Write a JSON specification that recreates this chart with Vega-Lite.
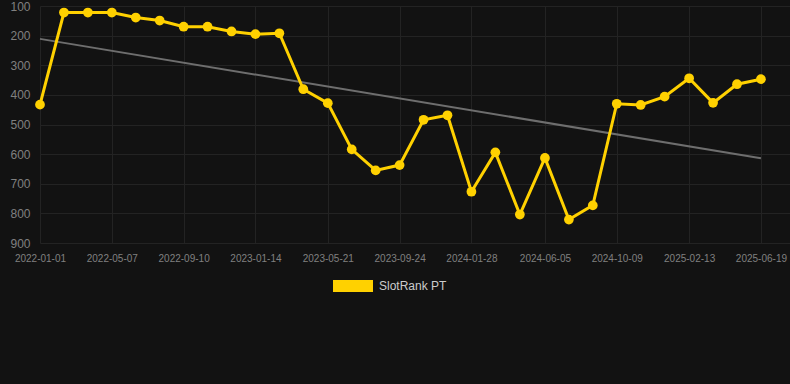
{
  "$schema": "https://vega.github.io/schema/vega-lite/v6.json",
  "width": 750,
  "height": 237,
  "autosize": {"type": "none"},
  "padding": {"left": 40, "top": 6, "right": 0, "bottom": 141},
  "background": "#121212",
  "config": {
    "view": {"stroke": null},
    "font": "Liberation Sans",
    "axis": {"gridColor": "#232323", "gridWidth": 1, "domain": false, "ticks": false, "labelColor": "#808080", "labelFont": "Liberation Sans", "title": null}
  },
  "datasets": {
    "rank": [
      {"date": "2022-01-01", "rank": 433, "series": "SlotRank PT"},
      {"date": "2022-02-12", "rank": 122, "series": "SlotRank PT"},
      {"date": "2022-03-26", "rank": 122, "series": "SlotRank PT"},
      {"date": "2022-05-07", "rank": 122, "series": "SlotRank PT"},
      {"date": "2022-06-18", "rank": 139, "series": "SlotRank PT"},
      {"date": "2022-07-30", "rank": 149, "series": "SlotRank PT"},
      {"date": "2022-09-10", "rank": 170, "series": "SlotRank PT"},
      {"date": "2022-10-22", "rank": 170, "series": "SlotRank PT"},
      {"date": "2022-12-03", "rank": 186, "series": "SlotRank PT"},
      {"date": "2023-01-14", "rank": 195, "series": "SlotRank PT"},
      {"date": "2023-02-25", "rank": 192, "series": "SlotRank PT"},
      {"date": "2023-04-08", "rank": 381, "series": "SlotRank PT"},
      {"date": "2023-05-21", "rank": 428, "series": "SlotRank PT"},
      {"date": "2023-07-02", "rank": 584, "series": "SlotRank PT"},
      {"date": "2023-08-13", "rank": 655, "series": "SlotRank PT"},
      {"date": "2023-09-24", "rank": 637, "series": "SlotRank PT"},
      {"date": "2023-11-05", "rank": 484, "series": "SlotRank PT"},
      {"date": "2023-12-17", "rank": 469, "series": "SlotRank PT"},
      {"date": "2024-01-28", "rank": 727, "series": "SlotRank PT"},
      {"date": "2024-03-10", "rank": 594, "series": "SlotRank PT"},
      {"date": "2024-04-22", "rank": 804, "series": "SlotRank PT"},
      {"date": "2024-06-05", "rank": 613, "series": "SlotRank PT"},
      {"date": "2024-07-17", "rank": 821, "series": "SlotRank PT"},
      {"date": "2024-08-28", "rank": 773, "series": "SlotRank PT"},
      {"date": "2024-10-09", "rank": 430, "series": "SlotRank PT"},
      {"date": "2024-11-20", "rank": 434, "series": "SlotRank PT"},
      {"date": "2025-01-01", "rank": 406, "series": "SlotRank PT"},
      {"date": "2025-02-13", "rank": 344, "series": "SlotRank PT"},
      {"date": "2025-03-27", "rank": 427, "series": "SlotRank PT"},
      {"date": "2025-05-08", "rank": 364, "series": "SlotRank PT"},
      {"date": "2025-06-19", "rank": 347, "series": "SlotRank PT"}
    ],
    "trend": [
      {"date": "2022-01-01", "rank": 211},
      {"date": "2025-06-19", "rank": 614}
    ]
  },
  "encoding": {
    "x": {
      "field": "date",
      "type": "temporal",
      "scale": {"type": "utc", "domain": [{"year": 2022, "month": 1, "date": 1, "utc": true}, {"year": 2025, "month": 8, "date": 9, "utc": true}]},
      "axis": {
        "values": [
          {"year": 2022, "month": 1, "date": 1, "utc": true},
          {"year": 2022, "month": 5, "date": 7, "utc": true},
          {"year": 2022, "month": 9, "date": 10, "utc": true},
          {"year": 2023, "month": 1, "date": 14, "utc": true},
          {"year": 2023, "month": 5, "date": 21, "utc": true},
          {"year": 2023, "month": 9, "date": 24, "utc": true},
          {"year": 2024, "month": 1, "date": 28, "utc": true},
          {"year": 2024, "month": 6, "date": 5, "utc": true},
          {"year": 2024, "month": 10, "date": 9, "utc": true},
          {"year": 2025, "month": 2, "date": 13, "utc": true},
          {"year": 2025, "month": 6, "date": 19, "utc": true}
        ],
        "labelExpr": "utcFormat(datum.value, '%Y-%m-%d')",
        "labelFontSize": 10,
        "labelPadding": 10,
        "labelOverlap": false,
        "labelFlush": false,
        "labelBound": false
      }
    },
    "y": {
      "field": "rank",
      "type": "quantitative",
      "scale": {"domain": [100, 900], "reverse": true, "nice": false, "zero": false},
      "axis": {"values": [100, 200, 300, 400, 500, 600, 700, 800, 900], "labelFontSize": 12, "labelPadding": 10, "labelFlush": false}
    }
  },
  "layer": [
    {
      "data": {"name": "trend"},
      "mark": {"type": "line", "color": "#6e6e6e", "strokeWidth": 2}
    },
    {
      "data": {"name": "rank"},
      "mark": {"type": "line", "strokeWidth": 3, "point": {"size": 95, "filled": true, "opacity": 1}},
      "encoding": {
        "color": {
          "field": "series",
          "type": "nominal",
          "scale": {"range": ["#FFD100"]},
          "legend": {
            "orient": "none",
            "legendX": 293,
            "legendY": 260,
            "title": null,
            "padding": 0,
            "symbolType": "M-1,-0.3H1V0.3H-1Z",
            "symbolSize": 1600,
            "symbolFillColor": "#FFD100",
            "symbolStrokeColor": "#FFD100",
            "symbolStrokeWidth": 0,
            "labelColor": "#cccccc",
            "labelFontSize": 12,
            "labelFont": "Liberation Sans",
            "labelOffset": 6
          }
        }
      }
    }
  ]
}
